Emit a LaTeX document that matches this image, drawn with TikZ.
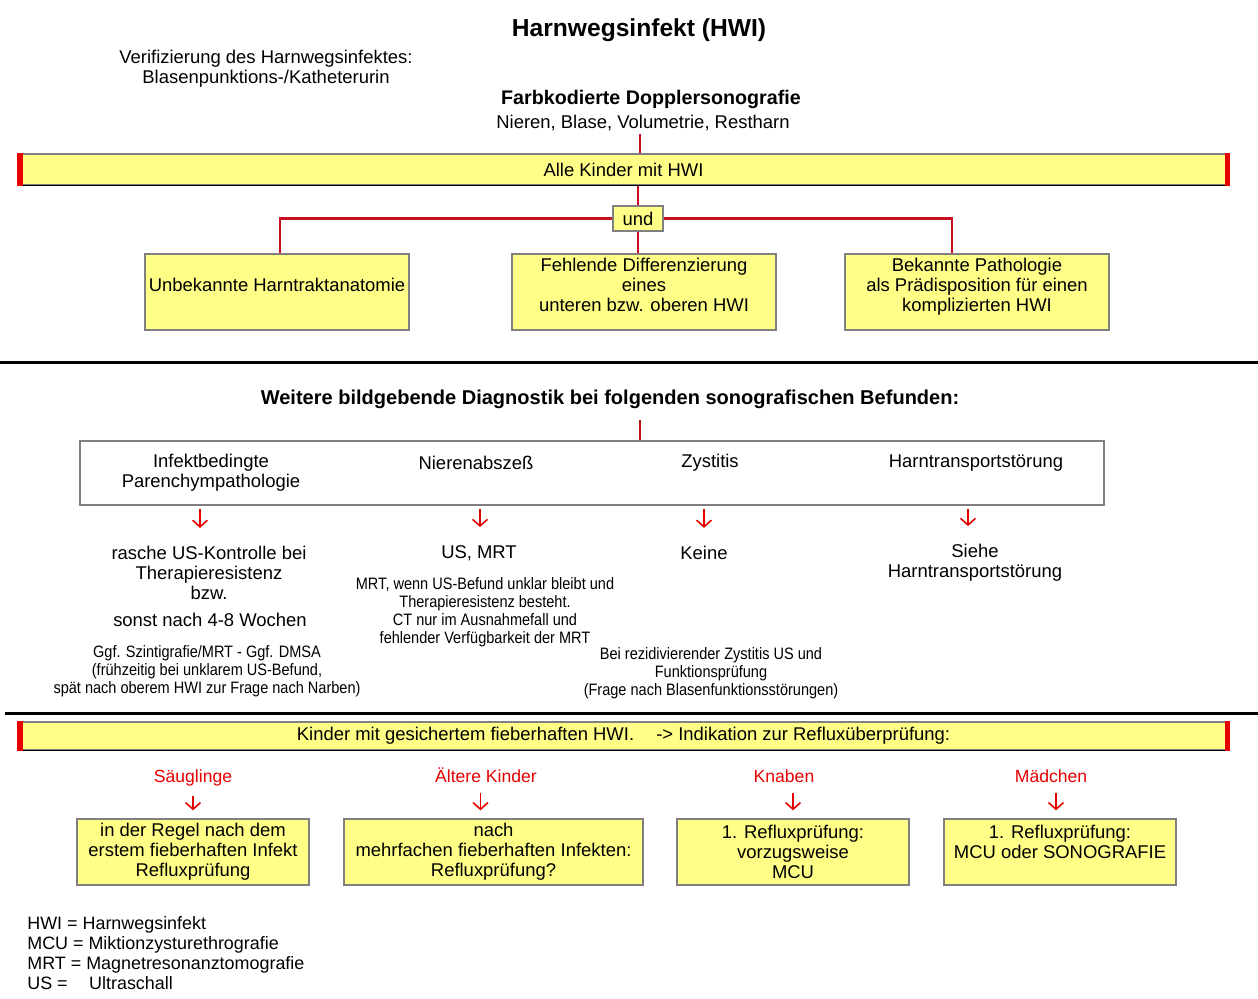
\documentclass[tikz,border=0pt]{standalone}
\usepackage{fontspec}
\setmainfont{Liberation Sans}
\newfontfamily\narrowfont[FakeStretch=0.88]{Liberation Sans}
\usetikzlibrary{arrows.meta,positioning,calc}

\definecolor{hwiyellow}{RGB}{255,255,136}
\definecolor{hwired}{RGB}{200,16,32}
\definecolor{barred}{RGB}{230,0,0}
\definecolor{boxgray}{RGB}{128,128,128}

% extra depth below the last line, lifts the text inside a box
\newcommand{\lowpad}{\rule[-8pt]{0pt}{0pt}}

\begin{document}
\begin{tikzpicture}[
        x=0.02cm, y=-0.02cm,
        txt/.style={align=center, inner sep=0pt, font=\fontsize{10.5}{11.34}\selectfont},
        small/.style={align=center, inner sep=0pt, font=\narrowfont\fontsize{9.4}{10.2}\selectfont},
        head/.style={align=center, inner sep=0pt, font=\bfseries\fontsize{11.4}{13}\selectfont},
        box/.style={txt, draw=boxgray, line width=0.8pt, fill=hwiyellow},
        banner/.style={box, minimum width=24.22cm},
        redline/.style={draw=hwired, line width=1.2pt},
        redarrow/.style={-{Straight Barb[length=3.8pt,width=8.5pt]}, draw=barred, line width=0.9pt},
        redlabel/.style={txt, text=barred, anchor=base, font=\fontsize{10}{11.34}\selectfont}
    ]
        \useasboundingbox (0,0) rectangle (1258,998);

        \node[txt, font=\bfseries\fontsize{14}{16}\selectfont] (Title) at (639,30) {Harnwegsinfekt (HWI)};
        \node[txt] (Verif) at (266,69) {Verifizierung des Harnwegsinfektes:\\Blasenpunktions-/Katheterurin};
        \node[txt, font=\bfseries\fontsize{11.2}{13}\selectfont] (DopTitle) at (651,99) {Farbkodierte Dopplersonografie};
        \node[txt] (DopSub) at (643,123) {Nieren, Blase, Volumetrie, Restharn};
        \coordinate (dopTop) at (640,134);

        % first block
        \node[banner, minimum height=0.62cm] (AllKids) at (623.5,169.5) {Alle Kinder mit HWI};
        \node[box, minimum width=1cm, minimum height=0.5cm] (Und) at (638,218.5) {und};
        \node[box, minimum width=5.28cm, minimum height=1.52cm] (Unknown) at (277,292) {Unbekannte Harntraktanatomie\lowpad};
        \node[box, minimum width=5.28cm, minimum height=1.52cm] (MissingDiff) at (644,292) {Fehlende Differenzierung\\eines\\unteren bzw. oberen HWI\lowpad};
        \node[box, minimum width=5.28cm, minimum height=1.52cm] (KnownPath) at (977,292) {Bekannte Pathologie\\als Prädisposition für einen\\komplizierten HWI\lowpad};

        \draw[redline] (dopTop) -- (dopTop |- AllKids.north);
        \draw[redline] (Und.north |- AllKids.south) -- (Und.north);
        \draw[redline] (Und.west) -| ([xshift=0.06cm]Unknown.north);
        \draw[redline] (Und.east) -| ([xshift=-0.5cm]KnownPath.north);
        \draw[redline] (Und.south) -- (Und.south |- MissingDiff.north);

        \draw[line width=1.7pt] (0,362) -- (1258,362);

        % second block
        \node[head] (Further) at (610,399) {Weitere bildgebende Diagnostik bei folgenden sonografischen Befunden:};
        \coordinate (furtherTop) at (640,420);
        \node[draw=boxgray, line width=1.1pt, minimum width=20.48cm, minimum height=1.28cm, inner sep=0pt] (Findings) at (592,473) {};
        \draw[redline] (furtherTop) -- (furtherTop |- Findings.north);

        \node[txt] (CatInf) at (211,473) {Infektbedingte\\Parenchympathologie};
        \node[txt] (CatAbs) at (476,463) {Nierenabszeß};
        \node[txt] (CatCys) at (710,463) {Zystitis};
        \node[txt] (CatTra) at (976,463) {Harntransportstörung};

        \node[txt] (ResInf) at (209,573) {rasche US-Kontrolle bei\\Therapieresistenz\\bzw.};
        \node[txt] (ResInfB) at (210,620) {sonst nach 4-8 Wochen};
        \node[small] (NoteInf) at (207,671) {Ggf. Szintigrafie/MRT - Ggf. DMSA\\(frühzeitig bei unklarem US-Befund,\\spät nach oberem HWI zur Frage nach Narben)};
        \node[txt] (ResAbs) at (479,553) {US, MRT};
        \node[small] (NoteAbs) at (485,612) {MRT, wenn US-Befund unklar bleibt und\\Therapieresistenz besteht.\\CT nur im Ausnahmefall und\\fehlender Verfügbarkeit der MRT};
        \node[txt] (ResCys) at (704,553) {Keine};
        \node[small] (NoteCys) at (711,673) {Bei rezidivierender Zystitis US und\\Funktionsprüfung\\(Frage nach Blasenfunktionsstörungen)};
        \node[txt] (ResTra) at (975,563) {Siehe\\Harntransportstörung};

        \foreach \i/\dx in {ResInf/-0.18, ResAbs/0.02, ResCys/0, ResTra/-0.14} {
            \draw[redarrow] ([xshift=\dx cm, yshift=-0.06cm]Findings.south -| \i.north) -- ([xshift=\dx cm, yshift=0.36cm]\i.north);
        }

        \draw[line width=1.7pt] (5,713) -- (1258,713);

        % third block
        \node[banner, minimum height=0.56cm] (Fever) at (623.5,736) {Kinder mit gesichertem fieberhaften HWI.\hspace{1.2em}-> Indikation zur Refluxüberprüfung:};

        \node[redlabel] (Infants) at (193,782) {Säuglinge};
        \node[redlabel] (Older) at (486,782) {Ältere Kinder};
        \node[redlabel] (Boys) at (784,782) {Knaben};
        \node[redlabel] (Girls) at (1051,782) {Mädchen};

        \node[box, minimum width=4.64cm, minimum height=1.32cm] (BoxInfants) at (193,852) {in der Regel nach dem\\erstem fieberhaften Infekt\\Refluxprüfung};
        \node[box, minimum width=5.98cm, minimum height=1.32cm] (BoxOlder) at (493.5,852) {nach\\mehrfachen fieberhaften Infekten:\\Refluxprüfung?};
        \node[box, minimum width=4.64cm, minimum height=1.32cm] (BoxBoys) at (793,852) {1. Refluxprüfung:\\vorzugsweise\\MCU};
        \node[box, minimum width=4.64cm, minimum height=1.32cm] (BoxGirls) at (1060,852) {1. Refluxprüfung:\\MCU oder SONOGRAFIE\\\mbox{}};

        \draw[redarrow] (BoxInfants.north |- Infants.south) ++(0,10) -- ([yshift=0.16cm]BoxInfants.north);
        \draw[redarrow] ([xshift=-0.26cm]BoxOlder.north |- Older.south) ++(0,10) -- ([xshift=-0.26cm, yshift=0.16cm]BoxOlder.north);
        \draw[redarrow] (BoxBoys.north |- Boys.south) ++(0,10) -- ([yshift=0.16cm]BoxBoys.north);
        \draw[redarrow] ([xshift=-0.08cm]BoxGirls.north |- Girls.south) ++(0,10) -- ([xshift=-0.08cm, yshift=0.16cm]BoxGirls.north);

        % banner ends
        \foreach \b in {AllKids, Fever} {
            \draw[line width=0.8pt] (\b.south west) -- (\b.south east);
            \fill[barred] (\b.north west) rectangle ([xshift=0.12cm]\b.south west);
            \fill[barred] ([xshift=-0.1cm]\b.north east) rectangle (\b.south east);
        }

        \node[txt, align=left, anchor=west, font=\fontsize{10.2}{11.34}\selectfont] (Legend) at (27,953) {HWI = Harnwegsinfekt\\MCU = Miktionzysturethrografie\\MRT = Magnetresonanztomografie\\US =\hspace{1.2em}Ultraschall};
    \end{tikzpicture}
\end{document}
